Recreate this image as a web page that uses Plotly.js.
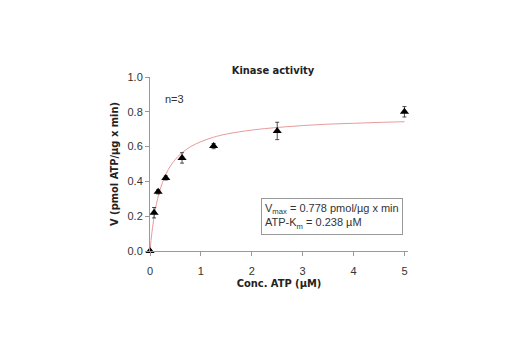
<!DOCTYPE html>
<html>
<head>
<meta charset="utf-8">
<script src="https://cdn.plot.ly/plotly-3.0.1.min.js"></script>
<style>html,body{margin:0;padding:0;background:#fff;}#chart{width:520px;height:350px;}</style>
</head>
<body>
<div id="chart"></div>
<script>
// Measured points (mean ± SD)
var concATP = [0, 0.08, 0.16, 0.31, 0.63, 1.25, 2.5, 5];
var velocity = [0, 0.22, 0.34, 0.42, 0.535, 0.603, 0.69, 0.80];
var errorSD = [0.005, 0.03, 0.012, 0.012, 0.03, 0.015, 0.05, 0.03];

// Fitted curve
var fitX = [0, 0.02, 0.05, 0.1, 0.15, 0.2, 0.3, 0.4, 0.5, 0.6, 0.8, 1.0, 1.25, 1.5, 2, 2.5, 3, 3.5, 4, 4.5, 5];
var fitY = [0, 0.060, 0.135, 0.230, 0.301, 0.355, 0.434, 0.488, 0.527, 0.557, 0.600, 0.628, 0.654, 0.672, 0.695, 0.710, 0.721, 0.729, 0.734, 0.739, 0.743];

var xTicks = [0, 1, 2, 3, 4, 5];
var yTicks = [0, 0.2, 0.4, 0.6, 0.8, 1.0];

var titleText = 'Kinase activity';
var xTitle = 'Conc. ATP (µM)';
var yTitle = 'V (pmol ATP/µg x min)';
var nText = 'n=3';
var boxText = 'V<sub>max</sub> = 0.778 pmol/µg x min<br>ATP-K<sub>m</sub> = 0.238 µM';

var narrowBold = {family: '"DejaVu Sans Condensed", "Liberation Sans Narrow", sans-serif', size: 11, color: '#222', weight: 'bold'};
var regular = {family: '"Liberation Sans", Arial, sans-serif', size: 11, color: '#333'};

var traces = [
  {
    x: fitX, y: fitY, type: 'scatter', mode: 'lines',
    line: {color: '#e99a9a', width: 1, shape: 'spline'},
    hoverinfo: 'skip', showlegend: false
  },
  {
    x: concATP, y: velocity, type: 'scatter', mode: 'markers',
    marker: {symbol: 'triangle-up', size: 8, color: '#000'},
    error_y: {type: 'data', array: errorSD, visible: true, color: '#222', thickness: 0.8, width: 2},
    cliponaxis: false, showlegend: false
  }
];

var layout = {
  width: 520, height: 350,
  margin: {l: 150, r: 112, t: 77, b: 99},
  paper_bgcolor: '#fff', plot_bgcolor: '#fff',
  showlegend: false,
  title: {text: titleText, font: narrowBold, x: 0.525, xanchor: 'center', y: 0.8, yanchor: 'middle', yref: 'container'},
  xaxis: {
    range: [0, 5.07], tickvals: xTicks, ticktext: xTicks.map(String),
    showgrid: false, zeroline: false, showline: true, linecolor: '#999', linewidth: 1,
    ticks: 'outside', ticklen: 4, tickcolor: '#999', ticklabelstandoff: 6,
    tickfont: regular,
    title: {text: xTitle, font: narrowBold, standoff: 2}
  },
  yaxis: {
    range: [0, 1.0], tickvals: yTicks, ticktext: yTicks.map(function(v){return v.toFixed(1);}),
    showgrid: false, zeroline: false, showline: true, linecolor: '#999', linewidth: 1,
    ticks: 'outside', ticklen: 4, tickcolor: '#999',
    tickfont: regular,
    title: {text: yTitle, font: narrowBold, standoff: 6}
  },
  annotations: [
    {text: nText, xref: 'paper', yref: 'paper', x: 0.05, y: 0.875, xanchor: 'left', yanchor: 'middle', showarrow: false, font: regular},
    {text: boxText, xref: 'paper', yref: 'paper', x: 0.98, y: 0.2, xanchor: 'right', yanchor: 'middle', showarrow: false,
     align: 'left', font: {family: '"Liberation Sans", Arial, sans-serif', size: 11, color: '#333'},
     bordercolor: '#999', borderwidth: 1, borderpad: 3, bgcolor: '#fff'}
  ]
};

Plotly.newPlot('chart', traces, layout, {displayModeBar: false, staticPlot: true});
</script>
</body>
</html>
